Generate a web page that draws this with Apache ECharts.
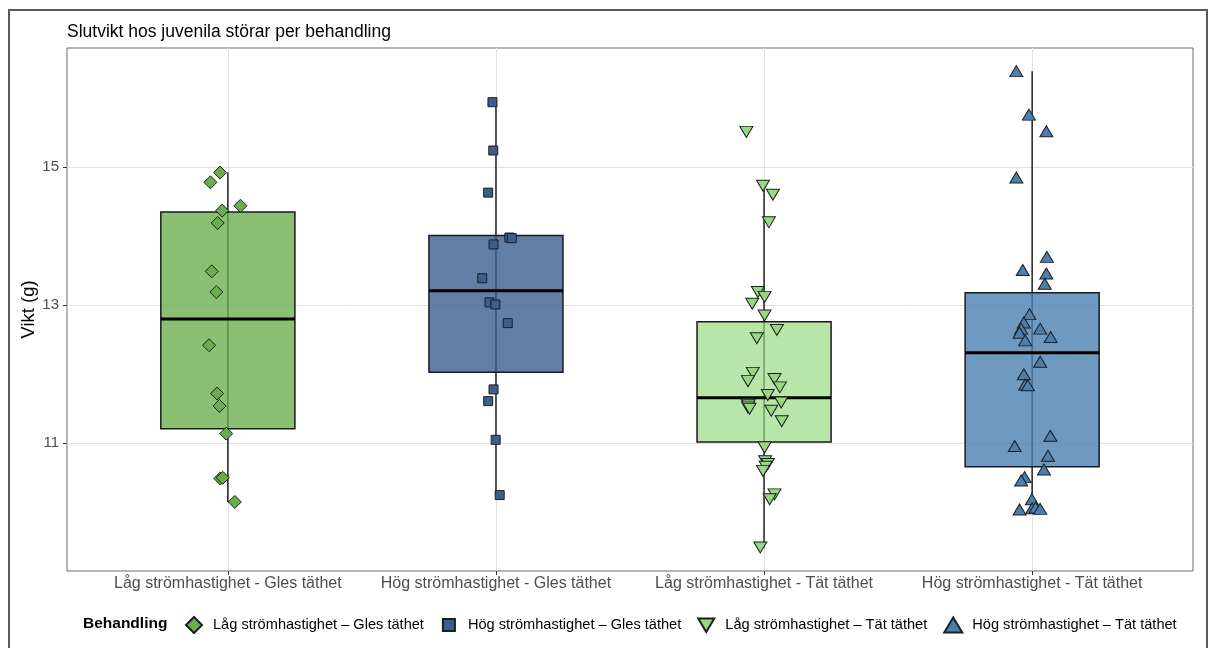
<!DOCTYPE html>
<html>
<head>
<meta charset="utf-8">
<script src="https://cdn.jsdelivr.net/npm/echarts@6/dist/echarts.min.js"></script>
<style>
  html, body { margin: 0; padding: 0; background: #ffffff; }
  #chart { width: 1218px; height: 648px; }
</style>
</head>
<body>
<div id="chart"></div>
<script>
// Treatment groups (axis labels) and legend names
const categories = [
  'Låg strömhastighet - Gles täthet',
  'Hög strömhastighet - Gles täthet',
  'Låg strömhastighet - Tät täthet',
  'Hög strömhastighet - Tät täthet'
];
const legendNames = [
  'Låg strömhastighet – Gles täthet',
  'Hög strömhastighet – Gles täthet',
  'Låg strömhastighet – Tät täthet',
  'Hög strömhastighet – Tät täthet'
];
const groupPositions = [1, 2, 3, 4];
const yTicks = [11, 13, 15];

// Final weights (g) per fish, with the horizontal jitter of each point (in category units)
const weightsLagGles = [14.92, 14.78, 14.44, 14.37, 14.19, 13.49, 13.19, 12.42, 11.72, 11.54, 11.14, 10.49, 10.50, 10.15];
const jitterLagGles  = [-0.029, -0.065, 0.047, -0.021, -0.038, -0.060, -0.043, -0.070, -0.040, -0.031, -0.006, -0.028, -0.019, 0.026];

const weightsHogGles = [15.94, 15.24, 14.63, 13.98, 13.97, 13.88, 13.39, 13.04, 13.01, 12.74, 11.78, 11.61, 11.05, 10.25];
const jitterHogGles  = [-0.013, -0.010, -0.029, 0.050, 0.059, -0.009, -0.051, -0.024, -0.002, 0.044, -0.009, -0.029, -0.001, 0.014];

const weightsLagTat = [15.51, 14.73, 14.60, 14.20, 13.19, 13.12, 13.02, 12.85, 12.64, 12.52, 12.02, 11.90, 11.93, 11.81, 11.70,
                       11.59, 11.57, 11.55, 11.52, 11.50, 11.47, 11.32, 10.94, 10.74, 10.70, 10.66, 10.60, 10.26, 10.19, 9.49];
const jitterLagTat  = [-0.066, -0.004, 0.033, 0.018, -0.023, 0.002, -0.044, 0.002, 0.048, -0.027, -0.042, -0.060, 0.039, 0.059, 0.014,
                       0.064, -0.063, -0.058, -0.060, -0.054, 0.027, 0.066, 0.002, 0.004, 0.014, 0.006, -0.004, 0.039, 0.021, -0.014];

const weightsHogTat = [16.39, 15.76, 15.52, 14.85, 13.70, 13.51, 13.46, 13.31, 12.87, 12.75, 12.66, 12.60, 12.49, 12.66, 12.54,
                       12.18, 12.00, 11.85, 11.84, 11.11, 10.96, 10.82, 10.62, 10.51, 10.46, 10.19, 10.04, 10.06, 10.07, 10.05];
const jitterHogTat  = [-0.059, -0.012, 0.053, -0.059, 0.055, -0.035, 0.053, 0.047, -0.010, -0.031, -0.041, -0.047, -0.026, 0.030, 0.069,
                       0.030, -0.031, -0.026, -0.016, 0.068, -0.065, 0.059, 0.044, -0.028, -0.041, -0.001, -0.047, 0.000, 0.013, 0.030];

// Box statistics per group: [lower whisker, Q1, median, Q3, upper whisker]
const statsLagGles = [10.15, 11.21, 12.80, 14.35, 14.92];
const statsHogGles = [10.25, 12.03, 13.21, 14.01, 15.94];
const statsLagTat  = [9.49, 11.02, 11.66, 12.76, 14.73];
const statsHogTat  = [10.04, 10.66, 12.31, 13.18, 16.39];

const FONT = "'Liberation Sans', Arial, Helvetica, sans-serif";
const pointColors = ['#6aad4c', '#3b5e8e', '#97d97f', '#4a7fb1'];
const boxFills = ['rgba(106,173,76,0.78)', 'rgba(59,94,142,0.80)', 'rgba(151,217,127,0.68)', 'rgba(74,127,177,0.80)'];
const BOX_WIDTH = 0.5;

const weights = [weightsLagGles, weightsHogGles, weightsLagTat, weightsHogTat];
const jitters = [jitterLagGles, jitterHogGles, jitterLagTat, jitterHogTat];
const stats = [statsLagGles, statsHogGles, statsLagTat, statsHogTat];

const symbols = [
  'diamond',
  'rect',
  'path://M0,0L14,0L7,12Z',
  'triangle'
];
const symbolSizes = [[13, 13], [9, 9], [13, 11], [13, 11]];
const legendIcons = [
  'path://M0,0M16,16M8,0L16,8L8,16L0,8Z',
  'path://M0,0M16,16M2,2L14,2L14,14L2,14Z',
  'path://M0,0M16,16M0,1.5L16,1.5L8,15Z',
  'path://M0,0M18,16M9,0.5L18,15.5L0,15.5Z'
];

const boxData = groupPositions.map((x, i) => [x].concat(stats[i]).concat([i]));

const scatterSeries = groupPositions.map((x, i) => ({
  type: 'scatter',
  name: legendNames[i],
  symbol: symbols[i],
  symbolSize: symbolSizes[i],
  z: 5,
  itemStyle: { color: pointColors[i], borderColor: '#1e1e1e', borderWidth: 1, opacity: 1 },
  emphasis: { disabled: true },
  data: weights[i].map((w, j) => [x + jitters[i][j], w])
}));

const chart = echarts.init(document.getElementById('chart'), null, { renderer: 'canvas' });

chart.setOption({
  backgroundColor: '#ffffff',
  animation: false,
  textStyle: { fontFamily: FONT },
  title: [
    {
      text: 'Slutvikt hos juvenila störar per behandling',
      left: 67, top: 23, padding: 0,
      textStyle: { fontFamily: FONT, fontSize: 17.5, fontWeight: 'normal', color: '#000000' }
    },
    {
      text: 'Behandling',
      left: 83, top: 616, padding: 0,
      textStyle: { fontFamily: FONT, fontSize: 15.5, fontWeight: 'bold', color: '#000000' }
    }
  ],
  legend: {
    left: 185, top: 616, padding: 0,
    itemWidth: 28, itemHeight: 16, itemGap: 16,
    symbolKeepAspect: true,
    selectedMode: false,
    textStyle: { fontFamily: FONT, fontSize: 14.6, color: '#000000' },
    data: legendNames.map((n, i) => ({ name: n, icon: legendIcons[i] }))
  },
  graphic: [
    {
      type: 'rect', silent: true, z: 100,
      shape: { x: 9, y: 10, width: 1198, height: 660 },
      style: { fill: 'none', stroke: '#5a5a5a', lineWidth: 2 }
    }
  ],
  grid: {
    left: 67, right: 25, top: 48, bottom: 77,
    show: true, borderColor: '#6b6b6b', borderWidth: 1, backgroundColor: '#ffffff',
    containLabel: false
  },
  xAxis: {
    type: 'value', min: 0.4, max: 4.6,
    axisLine: { show: false },
    axisTick: { show: true, customValues: groupPositions, length: 4, lineStyle: { color: '#333333', width: 1 } },
    axisLabel: {
      customValues: groupPositions, margin: 5,
      fontFamily: FONT, fontSize: 16, color: '#4d4d4d',
      formatter: v => categories[Math.round(v) - 1] || ''
    },
    splitLine: { show: true, lineStyle: { color: '#e1e1e1', width: 1 } }
  },
  yAxis: {
    type: 'value', min: 9.15, max: 16.725,
    name: 'Vikt (g)', nameLocation: 'middle', nameGap: 29, nameRotate: 90,
    nameMoveOverlap: false,
    nameTextStyle: { fontFamily: FONT, fontSize: 18.5, color: '#000000' },
    axisLine: { show: false },
    axisTick: { show: true, customValues: yTicks, length: 4, lineStyle: { color: '#333333', width: 1 } },
    axisLabel: { customValues: yTicks, margin: 8, fontFamily: FONT, fontSize: 15, color: '#4d4d4d' },
    splitLine: { show: true, lineStyle: { color: '#e1e1e1', width: 1 } }
  },
  series: [
    {
      type: 'custom',
      name: 'boxes',
      z: 2,
      silent: true,
      encode: { x: 0, y: [1, 2, 3, 4, 5] },
      data: boxData,
      renderItem: function (params, api) {
        const x = api.value(0);
        const half = api.size([BOX_WIDTH, 0])[0] / 2;
        const pMin = api.coord([x, api.value(1)]);
        const pQ1 = api.coord([x, api.value(2)]);
        const pMed = api.coord([x, api.value(3)]);
        const pQ3 = api.coord([x, api.value(4)]);
        const pMax = api.coord([x, api.value(5)]);
        const idx = api.value(6);
        return {
          type: 'group',
          children: [
            { type: 'line', shape: { x1: pMax[0], y1: pMax[1], x2: pMin[0], y2: pMin[1] },
              style: { stroke: '#222222', lineWidth: 1.5 } },
            { type: 'rect', shape: { x: pQ3[0] - half, y: pQ3[1], width: half * 2, height: pQ1[1] - pQ3[1] },
              style: { fill: boxFills[idx], stroke: '#1a1a1a', lineWidth: 1.5 } },
            { type: 'line', shape: { x1: pMed[0] - half, y1: pMed[1], x2: pMed[0] + half, y2: pMed[1] },
              style: { stroke: '#000000', lineWidth: 3 } }
          ]
        };
      }
    }
  ].concat(scatterSeries)
});
</script>
</body>
</html>
